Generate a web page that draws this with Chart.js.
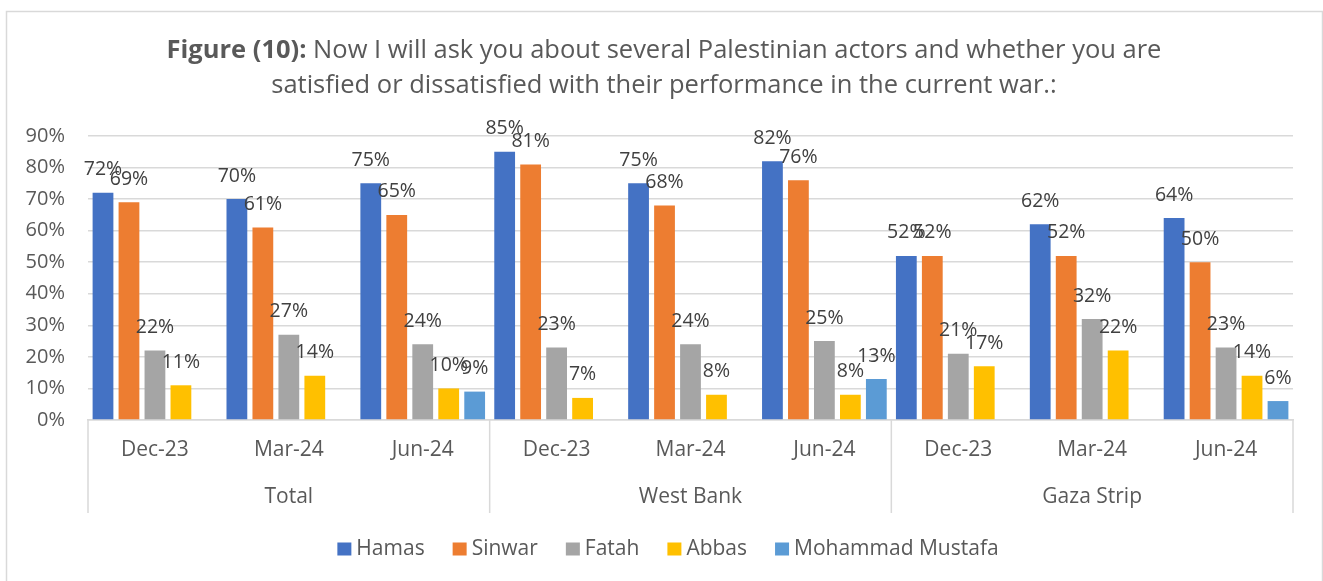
<!DOCTYPE html>
<html lang="en">
<head>
    <meta charset="UTF-8">
    <title>Figure (10)</title>
    <script src="https://cdn.jsdelivr.net/npm/chart.js"></script>
    <style>
        html, body { margin: 0; padding: 0; background: #fff; }
        #wrap { width: 1323px; height: 581px; }
    </style>
</head>
<body>
    <div id="wrap"><canvas id="satChart" width="1323" height="581"></canvas></div>

    <script>
        // categories and values
        const categories = ['Dec-23', 'Mar-24', 'Jun-24', 'Dec-23', 'Mar-24', 'Jun-24', 'Dec-23', 'Mar-24', 'Jun-24'];
        const regions = ['Total', 'West Bank', 'Gaza Strip'];
        const hamas = [72, 70, 75, 85, 75, 82, 52, 62, 64];
        const sinwar = [69, 61, 65, 81, 68, 76, 52, 52, 50];
        const fatah = [22, 27, 24, 23, 24, 25, 21, 32, 23];
        const abbas = [11, 14, 10, 7, 8, 8, 17, 22, 14];
        const mustafa = [null, null, 9, null, null, 13, null, null, 6];
        const yTicks = [0, 10, 20, 30, 40, 50, 60, 70, 80, 90];

        const FONT = '"Open Sans", "Noto Sans", sans-serif';
        const GREY_TEXT = '#595959';

        // title, frame, group labels, separators, data labels, legend
        const decor = {
            id: 'decor',
            beforeDraw(chart) {
                const c = chart.ctx;
                c.save();
                c.strokeStyle = '#d9d9d9';
                c.lineWidth = 1.5;
                c.strokeRect(6.5, 11.5, 1316, 600);
                c.restore();
            },
            afterDatasetsDraw(chart) {
                const c = chart.ctx;
                c.save();
                c.font = '19.5px ' + FONT;
                c.fillStyle = '#404040';
                c.textAlign = 'center';
                c.textBaseline = 'middle';
                chart.data.datasets.forEach((ds, i) => {
                    const meta = chart.getDatasetMeta(i);
                    meta.data.forEach((bar, j) => {
                        const v = ds.data[j];
                        if (v === null || v === undefined) return;
                        c.fillText(v + '%', bar.x, bar.y - 23);
                    });
                });
                c.restore();
            },
            afterDraw(chart) {
                const c = chart.ctx;
                const x = chart.scales.x;
                const area = chart.chartArea;
                const cx = 664;

                // title
                c.save();
                c.fillStyle = GREY_TEXT;
                c.textBaseline = 'middle';
                const bold = 'Figure (10):';
                const rest = ' Now I will ask you about several Palestinian actors and whether you are';
                c.font = 'bold 25.5px ' + FONT;
                const wb = c.measureText(bold).width;
                c.font = '25.5px ' + FONT;
                const wr = c.measureText(rest).width;
                let sx = cx - (wb + wr) / 2;
                c.textAlign = 'left';
                c.font = 'bold 25.5px ' + FONT;
                c.fillText(bold, sx, 51);
                c.font = '25.5px ' + FONT;
                c.fillText(rest, sx + wb, 51);
                c.textAlign = 'center';
                c.fillText('satisfied or dissatisfied with their performance in the current war.:', cx, 86);
                c.restore();

                // group separators under the axis
                const step = x.getPixelForValue(1) - x.getPixelForValue(0);
                c.save();
                c.strokeStyle = '#d9d9d9';
                c.lineWidth = 1.5;
                for (let g = 0; g <= regions.length; g++) {
                    const px = x.getPixelForValue(g * 3) - step / 2;
                    c.beginPath();
                    c.moveTo(px, area.bottom);
                    c.lineTo(px, 513);
                    c.stroke();
                }
                c.restore();

                // region labels
                c.save();
                c.font = '21px ' + FONT;
                c.fillStyle = GREY_TEXT;
                c.textAlign = 'center';
                c.textBaseline = 'middle';
                regions.forEach((r, g) => {
                    c.fillText(r, x.getPixelForValue(g * 3 + 1), 497);
                });
                c.restore();

                // legend
                c.save();
                c.font = '21px ' + FONT;
                c.textBaseline = 'middle';
                c.textAlign = 'left';
                const boxW = 14, boxH = 13, gapText = 5, gapItem = 28;
                const items = chart.data.datasets.map(ds => ({
                    label: ds.label, color: ds.backgroundColor,
                    w: boxW + gapText + c.measureText(ds.label).width
                }));
                const total = items.reduce((s, it) => s + it.w, 0) + gapItem * (items.length - 1);
                let lx = 668 - total / 2;
                const ly = 549;
                items.forEach(it => {
                    c.fillStyle = it.color;
                    c.fillRect(lx, ly - boxH / 2, boxW, boxH);
                    c.fillStyle = GREY_TEXT;
                    c.fillText(it.label, lx + boxW + gapText, ly);
                    lx += it.w + gapItem;
                });
                c.restore();
            }
        };

        const ctx = document.getElementById('satChart').getContext('2d');
        new Chart(ctx, {
            type: 'bar',
            data: {
                labels: categories,
                datasets: [
                    { label: 'Hamas', data: hamas, backgroundColor: '#4472C4' },
                    { label: 'Sinwar', data: sinwar, backgroundColor: '#ED7D31' },
                    { label: 'Fatah', data: fatah, backgroundColor: '#A5A5A5' },
                    { label: 'Abbas', data: abbas, backgroundColor: '#FFC000' },
                    { label: 'Mohammad Mustafa', data: mustafa, backgroundColor: '#5B9BD5' }
                ]
            },
            options: {
                responsive: false,
                animation: false,
                layout: { padding: { top: 136, right: 30, left: 0, bottom: 0 } },
                datasets: {
                    bar: { categoryPercentage: 0.97, barPercentage: 0.8 }
                },
                plugins: {
                    legend: { display: false },
                    tooltip: { enabled: false },
                    title: { display: false }
                },
                scales: {
                    x: {
                        grid: { display: false, drawTicks: false },
                        border: { color: '#d9d9d9', width: 1.5 },
                        ticks: {
                            color: GREY_TEXT,
                            font: { family: FONT, size: 21 },
                            padding: 17,
                            maxRotation: 0,
                            autoSkip: false
                        },
                        afterFit(scale) { scale.height = 161; }
                    },
                    y: {
                        min: 0,
                        max: 90,
                        afterBuildTicks(scale) {
                            scale.ticks = yTicks.map(v => ({ value: v }));
                        },
                        grid: { color: '#d9d9d9', lineWidth: 1.5, drawTicks: false },
                        border: { display: false },
                        ticks: {
                            color: GREY_TEXT,
                            font: { family: FONT, size: 20 },
                            padding: 23,
                            callback: v => v + '%'
                        },
                        afterFit(scale) { scale.width = 88; }
                    }
                }
            },
            plugins: [decor]
        });
    </script>
</body>
</html>
